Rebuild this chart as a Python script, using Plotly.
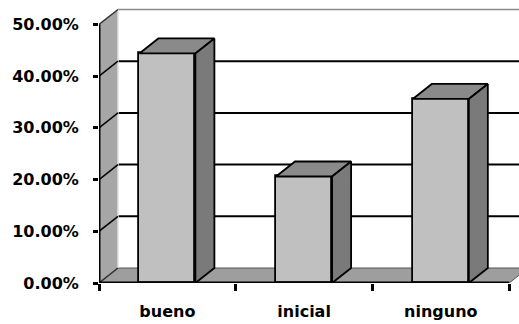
import plotly.graph_objects as go

# Data
categories = ["bueno", "inicial", "ninguno"]
values = [44.4, 20.6, 35.6]          # percent
y_ticks = [0, 10, 20, 30, 40, 50]
y_tick_labels = ["0.00%", "10.00%", "20.00%", "30.00%", "40.00%", "50.00%"]

# 3D-look geometry (data units)
DEPTH_X = 0.139      # horizontal shift of the back plane, in category units
DEPTH_Y = 2.9        # vertical shift of the back plane, in percent units
BAR_W = 0.41
N = len(categories)
Y_TOP = y_ticks[-1]
X_MAX = 3.072
Y_MAX = 53.77

FRONT = "#c0c0c0"
TOP = "#8a8a8a"
SIDE = "#7a7a7a"
WALL = "#a6a6a6"
FLOOR = "#9e9e9e"
FONT = dict(family="DejaVu Sans", size=16, color="black")

centers = [i + 0.5 for i in range(N)]

fig = go.Figure()

# front faces
fig.add_trace(go.Bar(
    x=centers, y=values, width=BAR_W,
    marker=dict(color=FRONT, line=dict(color="black", width=1.8)),
    showlegend=False, hoverinfo="skip",
))

# top and side faces
for c, v in zip(centers, values):
    x0, x1 = c - BAR_W / 2, c + BAR_W / 2
    fig.add_trace(go.Scatter(
        x=[x0, x1, x1 + DEPTH_X, x0 + DEPTH_X, x0],
        y=[v, v, v + DEPTH_Y, v + DEPTH_Y, v],
        mode="lines", fill="toself", fillcolor=TOP,
        line=dict(color="black", width=1.8),
        showlegend=False, hoverinfo="skip",
    ))
    fig.add_trace(go.Scatter(
        x=[x1, x1 + DEPTH_X, x1 + DEPTH_X, x1, x1],
        y=[0, DEPTH_Y, v + DEPTH_Y, v, 0],
        mode="lines", fill="toself", fillcolor=SIDE,
        line=dict(color="black", width=1.8),
        showlegend=False, hoverinfo="skip",
    ))

shapes = []
# back-wall gridlines
for t in y_ticks[1:]:
    top_line = t == Y_TOP
    shapes.append(dict(
        type="line", xref="x", yref="y", layer="between",
        x0=DEPTH_X, x1=X_MAX + 1, y0=t + DEPTH_Y, y1=t + DEPTH_Y,
        line=dict(color="#8a8a8a" if top_line else "black",
                  width=1.5 if top_line else 2),
    ))
# left side wall
shapes.append(dict(
    type="path", xref="x", yref="y", layer="between",
    path=f"M 0,0 L 0,{Y_TOP} L {DEPTH_X},{Y_TOP + DEPTH_Y} L {DEPTH_X},{DEPTH_Y} Z",
    fillcolor=WALL, line=dict(width=0),
))
# floor
shapes.append(dict(
    type="path", xref="x", yref="y", layer="between",
    path=f"M 0,0 L {N},0 L {N + DEPTH_X},{DEPTH_Y} L {DEPTH_X},{DEPTH_Y} Z",
    fillcolor=FLOOR, line=dict(color="#555555", width=1),
))
# back corner edge of the side wall
shapes.append(dict(
    type="line", xref="x", yref="y", layer="between",
    x0=DEPTH_X, x1=DEPTH_X, y0=DEPTH_Y, y1=Y_TOP + DEPTH_Y,
    line=dict(color="#e0e0e0", width=1.5),
))
# gridlines running across the side wall
for t in y_ticks:
    shapes.append(dict(
        type="line", xref="x", yref="y", layer="between",
        x0=0, x1=DEPTH_X, y0=t, y1=t + DEPTH_Y,
        line=dict(color="black" if 0 < t < Y_TOP else "#333333", width=1.5),
    ))
# axis lines
shapes.append(dict(type="line", xref="x", yref="y", layer="above",
                   x0=0, x1=0, y0=0, y1=Y_TOP, line=dict(color="black", width=3)))
shapes.append(dict(type="line", xref="x", yref="y", layer="above",
                   x0=0, x1=N, y0=0, y1=0, line=dict(color="black", width=3)))

fig.update_layout(
    width=519, height=324,
    margin=dict(l=99, r=0, t=5, b=41),
    paper_bgcolor="white", plot_bgcolor="white",
    shapes=shapes,
    bargap=0,
    font=FONT,
    xaxis=dict(
        range=[0, X_MAX], showgrid=False, zeroline=False, showline=False,
        tickmode="array", tickvals=centers, ticktext=categories,
        ticks="", ticklabelstandoff=17,
        tickfont=dict(family="DejaVu Sans", size=16, color="black", weight="bold"),
        minor=dict(tickmode="array", tickvals=list(range(N + 1)),
                   ticks="outside", ticklen=7, tickwidth=3, tickcolor="black",
                   showgrid=False),
    ),
    yaxis=dict(
        range=[0, Y_MAX], showgrid=False, zeroline=False, showline=False,
        tickmode="array", tickvals=y_ticks, ticktext=y_tick_labels,
        ticks="outside", ticklen=5, tickwidth=3, tickcolor="black",
        ticklabelstandoff=11,
        tickfont=dict(family="DejaVu Sans", size=16, color="black", weight="bold"),
    ),
)

fig.write_html("out.html")
